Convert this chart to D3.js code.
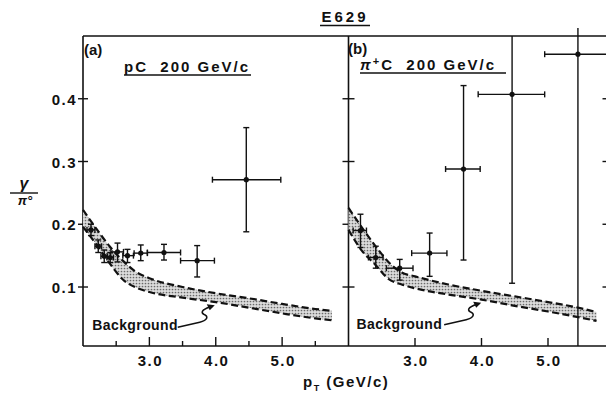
<!DOCTYPE html>
<html>
<head>
<meta charset="utf-8">
<script src="https://cdn.jsdelivr.net/npm/d3@7"></script>
<style>
  body { margin: 0; background: #fff; }
  svg text { font-family: "Liberation Sans", Arial, sans-serif; font-weight: bold; fill: #111; }
</style>
</head>
<body>
<div id="chart"></div>
<script>
// ---- data ----
// panel (a) pC 200 GeV/c
const pcX   = [2.12, 2.23, 2.32, 2.41, 2.52, 2.67, 2.87, 3.22, 3.72, 4.46];
const pcY   = [0.191, 0.165, 0.149, 0.147, 0.156, 0.150, 0.154, 0.155, 0.142, 0.271];
const pcXlo = [2.06, 2.18, 2.27, 2.36, 2.42, 2.60, 2.77, 2.97, 3.47, 3.95];
const pcXhi = [2.18, 2.28, 2.37, 2.46, 2.61, 2.76, 2.97, 3.47, 3.98, 4.98];
const pcYlo = [0.182, 0.155, 0.139, 0.139, 0.140, 0.139, 0.142, 0.143, 0.116, 0.188];
const pcYhi = [0.200, 0.175, 0.159, 0.155, 0.170, 0.160, 0.167, 0.168, 0.166, 0.354];

// panel (b) pi+C 200 GeV/c
const piX   = [2.18, 2.41, 2.77, 3.22, 3.73, 4.46, 5.45];
const piY   = [0.190, 0.147, 0.130, 0.154, 0.288, 0.407, 0.471];
const piXlo = [2.07, 2.30, 2.57, 2.95, 3.46, 3.95, 4.95];
const piXhi = [2.27, 2.52, 2.97, 3.48, 3.98, 4.95, 6.05];
const piYlo = [0.163, 0.130, 0.111, 0.117, 0.143, 0.106, 0.006];
const piYhi = [0.216, 0.165, 0.144, 0.186, 0.421, 0.500, 0.515];

// background bands
const bandAx  = [2.0, 2.2, 2.4, 2.6, 2.8, 3.0, 3.5, 4.0, 4.5, 5.0, 5.5, 5.75];
const bandAhi = [0.223, 0.193, 0.165, 0.142, 0.124, 0.114, 0.100, 0.090, 0.082, 0.073, 0.065, 0.062];
const bandAlo = [0.196, 0.168, 0.138, 0.112, 0.099, 0.092, 0.083, 0.076, 0.067, 0.058, 0.050, 0.047];
const bandBx  = [2.0, 2.2, 2.4, 2.6, 2.8, 3.0, 3.5, 4.0, 4.5, 5.0, 5.5, 5.73];
const bandBhi = [0.226, 0.195, 0.166, 0.140, 0.123, 0.117, 0.104, 0.094, 0.085, 0.076, 0.066, 0.060];
const bandBlo = [0.191, 0.158, 0.136, 0.113, 0.104, 0.098, 0.088, 0.080, 0.070, 0.061, 0.051, 0.046];

const yTicks = [0.1, 0.2, 0.3, 0.4];
const xMajor = [3, 4, 5];
const xMinor = [2.5, 3.5, 4.5, 5.5];

// ---- layout ----
const W = 606, H = 394;
const svg = d3.select("#chart").append("svg").attr("width", W).attr("height", H);

const y  = d3.scaleLinear().domain([0.006, 0.5]).range([346, 36]);
const xA = d3.scaleLinear().domain([2, 6]).range([83, 348.5]);
const xB = d3.scaleLinear().domain([2, 6]).range([348.5, 614.5]);

const defs = svg.append("defs");
const pat = defs.append("pattern").attr("id", "dots")
  .attr("width", 3).attr("height", 3).attr("patternUnits", "userSpaceOnUse");
pat.append("rect").attr("width", 3).attr("height", 3).attr("fill", "#dcdcdc");
pat.append("circle").attr("cx", 1.5).attr("cy", 1.5).attr("r", 0.85).attr("fill", "#6a6a6a");

const ink = "#111";

function line(x1, y1, x2, y2, w) {
  svg.append("line").attr("x1", x1).attr("y1", y1).attr("x2", x2).attr("y2", y2)
    .attr("stroke", ink).attr("stroke-width", w || 1.4);
}

// frame
line(xA(2), y(0.5), xA(2), y(0.006), 1.6);
line(xA(2), y(0.5), xB(6), y(0.5), 1.6);
line(xA(2), y(0.006), xB(6), y(0.006), 1.6);
line(xB(2), y(0.5), xB(2), y(0.006), 1.6);
line(xB(6), y(0.5), xB(6), y(0.006), 1.6);

// y ticks
yTicks.forEach(t => {
  line(xA(2) - 5, y(t), xA(2) + 5, y(t));
  line(xB(2) - 6, y(t), xB(2) + 6, y(t));
  line(xB(6) - 12, y(t), xB(6), y(t));
  svg.append("text").attr("x", 77).attr("y", y(t)).attr("dy", "0.4em")
    .attr("text-anchor", "end").attr("font-size", 15).attr("letter-spacing", 1.5)
    .text(d3.format(".1f")(t));
});

// x ticks
xMajor.forEach(t => {
  line(xA(t), y(0.006), xA(t), y(0.006) - 9);
  line(xB(t), y(0.006), xB(t), y(0.006) - 8);
  [xA, xB].forEach(x => {
    svg.append("text").attr("x", x(t) + 1).attr("y", 366)
      .attr("text-anchor", "middle").attr("font-size", 15).attr("letter-spacing", 1.5)
      .text(d3.format(".1f")(t));
  });
});
xMinor.forEach(t => line(xA(t), y(0.006), xA(t), y(0.006) - 5));

// bands
function band(x, xs, hi, lo) {
  const rows = xs.map((v, i) => ({ x: v, hi: hi[i], lo: lo[i] }));
  svg.append("path").datum(rows)
    .attr("fill", "url(#dots)")
    .attr("d", d3.area().curve(d3.curveMonotoneX)
      .x(d => x(d.x)).y0(d => y(d.lo)).y1(d => y(d.hi)));
  ["hi", "lo"].forEach(k => {
    svg.append("path").datum(rows)
      .attr("fill", "none").attr("stroke", ink).attr("stroke-width", 2.2)
      .attr("stroke-dasharray", "7,3.5")
      .attr("d", d3.line().curve(d3.curveMonotoneX).x(d => x(d.x)).y(d => y(d[k])));
  });
}
band(xA, bandAx, bandAhi, bandAlo);
band(xB, bandBx, bandBhi, bandBlo);

// error bars + points
function points(x, px, py, xlo, xhi, ylo, yhi) {
  const cap = 3;
  px.forEach((v, i) => {
    const cx = x(v), cy = y(py[i]);
    const top = Math.max(y(yhi[i]), 28), bot = y(ylo[i]);
    line(cx, top, cx, bot, 1.4);
    line(x(xlo[i]), cy, Math.min(x(xhi[i]), W + 5), cy, 1.4);
    if (yhi[i] < 0.5) line(cx - cap, top, cx + cap, top, 1.4);
    if (ylo[i] > 0.01) line(cx - cap, bot, cx + cap, bot, 1.4);
    line(x(xlo[i]), cy - cap, x(xlo[i]), cy + cap, 1.4);
    if (xhi[i] < 6) line(x(xhi[i]), cy - cap, x(xhi[i]), cy + cap, 1.4);
    svg.append("circle").attr("cx", cx).attr("cy", cy).attr("r", 2.6).attr("fill", ink);
  });
}
points(xA, pcX, pcY, pcXlo, pcXhi, pcYlo, pcYhi);
points(xB, piX, piY, piXlo, piXhi, piYlo, piYhi);

// "Background" labels with squiggly arrows
function bgLabel(x, tx, ty, ax, ay) {
  svg.append("text").attr("x", x(tx)).attr("y", y(ty))
    .attr("font-size", 14).attr("letter-spacing", 0.4).text("Background");
  const X = x(ax), Y = y(ay);
  svg.append("path")
    .attr("d", `M${X - 36},${Y + 22} L${X - 14},${Y + 17} C${X - 6},${Y + 15} ${X - 5},${Y + 11} ${X - 10},${Y + 9}` +
      ` C${X - 14},${Y + 7} ${X - 10},${Y + 3} ${X - 1},${Y + 1}`)
    .attr("fill", "none").attr("stroke", ink).attr("stroke-width", 1.6);
  svg.append("path")
    .attr("d", `M${X + 1},${Y} L${X - 7},${Y - 1} L${X - 4},${Y + 5} Z`)
    .attr("fill", ink);
}
bgLabel(xA, 2.14, 0.031, 3.97, 0.071);
bgLabel(xB, 2.12, 0.033, 3.98, 0.075);

// panel labels
svg.append("text").attr("x", 84).attr("y", 55).attr("font-size", 15).text("(a)");
svg.append("text").attr("x", 348).attr("y", 54).attr("font-size", 15).text("(b)");

svg.append("text").attr("x", 124).attr("y", 72).attr("font-size", 15)
  .attr("letter-spacing", 2).attr("xml:space", "preserve").text("pC  200 GeV/c");
line(124, 75, 251, 75, 1.4);

const tb = svg.append("text").attr("x", 360).attr("y", 70).attr("font-size", 15)
  .attr("letter-spacing", 2).attr("xml:space", "preserve");
tb.append("tspan").attr("font-style", "italic").text("π");
tb.append("tspan").attr("dy", -5).attr("font-size", 11).text("+");
tb.append("tspan").attr("dy", 5).text("C  200 GeV/c");
line(360, 73, 506, 73, 1.4);

// title
svg.append("text").attr("x", 345).attr("y", 22).attr("text-anchor", "middle")
  .attr("font-size", 15).attr("letter-spacing", 3).text("E629");
line(320, 25.5, 370, 25.5, 1.4);

// y label
svg.append("text").attr("x", 24).attr("y", 189).attr("text-anchor", "middle")
  .attr("font-size", 16).attr("font-style", "italic").text("γ");
line(10, 193, 38, 193, 1.4);
svg.append("text").attr("x", 25).attr("y", 205).attr("text-anchor", "middle")
  .attr("font-size", 13).attr("font-style", "italic").text("π°");

// x label
const xl = svg.append("text").attr("x", 303).attr("y", 387).attr("font-size", 15)
  .attr("letter-spacing", 1.5).attr("xml:space", "preserve");
xl.append("tspan").text("p");
xl.append("tspan").attr("dy", 4).attr("font-size", 9).text("T");
xl.append("tspan").attr("dy", -4).text(" (GeV/c)");
</script>
</body>
</html>
